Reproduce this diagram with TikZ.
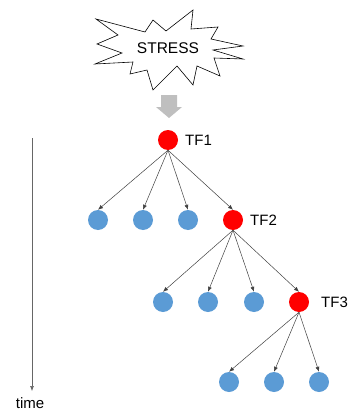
\documentclass[tikz,border=0pt]{standalone}
\usepackage{fontspec}
\setmainfont{Liberation Sans}
\usetikzlibrary{arrows.meta}
\definecolor{tfred}{HTML}{FF0000}
\definecolor{gblue}{HTML}{5B9BD5}
\definecolor{blockgray}{HTML}{BFBFBF}
\begin{document}
\begin{tikzpicture}[x=1pt,y=-1pt,
  tf/.style={circle,fill=tfred,minimum size=20pt,inner sep=0pt},
  gene/.style={circle,fill=gblue,minimum size=20pt,inner sep=0pt},
  lbl/.style={font=\fontsize{15}{18}\selectfont,anchor=west,inner sep=0pt},
  edge/.style={draw=black!75,line width=0.5pt,-{Latex[length=5pt,width=4pt]}}]
\useasboundingbox (0,0) rectangle (349,412);
% starburst
\draw[line width=0.6pt,fill=white,line join=miter]
 (96,19) -- (145,32) -- (153,20) -- (166,31) -- (193,10) -- (191,29) -- (218,27) -- (211,39)
 -- (243,46) -- (213,50) -- (243,59) -- (214,58) -- (220,76) -- (197,66) -- (193,85)
 -- (177,66) -- (153,90) -- (147,70) -- (130,74) -- (133,62) -- (95,64) -- (122,53)
 -- (97,44) -- (118,35) -- cycle;
\node[font=\fontsize{15.5}{18}\selectfont,inner sep=0pt] (stress) at (168,48) {STRESS};
% block arrow
\fill[blockgray] (161,95) -- (177,95) -- (177,107) -- (182,107) -- (169,118) -- (156,107) -- (161,107) -- cycle;
% nodes
\node[tf] (tf1) at (168,140) {};
\node[lbl] (tf1l) at (185,140) {TF1};
\node[gene] (a1) at (98,220) {};
\node[gene] (a2) at (143,220) {};
\node[gene] (a3) at (188,220) {};
\node[tf] (tf2) at (233,220) {};
\node[lbl] (tf2l) at (250,220) {TF2};
\node[gene] (b1) at (163,302) {};
\node[gene] (b2) at (208,302) {};
\node[gene] (b3) at (254,302) {};
\node[tf] (tf3) at (299,302) {};
\node[lbl] (tf3l) at (321,302) {TF3};
\node[gene] (c1) at (229,382) {};
\node[gene] (c2) at (274,382) {};
\node[gene] (c3) at (319,382) {};
% edges
\foreach \t in {a1,a2,a3,tf2} \draw[edge] (tf1.south) -- (\t.north);
\foreach \t in {b1,b2,b3,tf3} \draw[edge] (tf2.south) -- (\t.north);
\foreach \t in {c1,c2,c3} \draw[edge] (tf3.south) -- (\t.north);
% time axis
\coordinate (ts) at (32,138);
\coordinate (te) at (32,391);
\draw[draw=black!60,line width=0.6pt,-{Latex[length=5pt,width=4pt]}] (ts) -- (te);
\node[font=\fontsize{15}{18}\selectfont,inner sep=0pt] (time) at (30,403.5) {time};
\end{tikzpicture}
\end{document}
